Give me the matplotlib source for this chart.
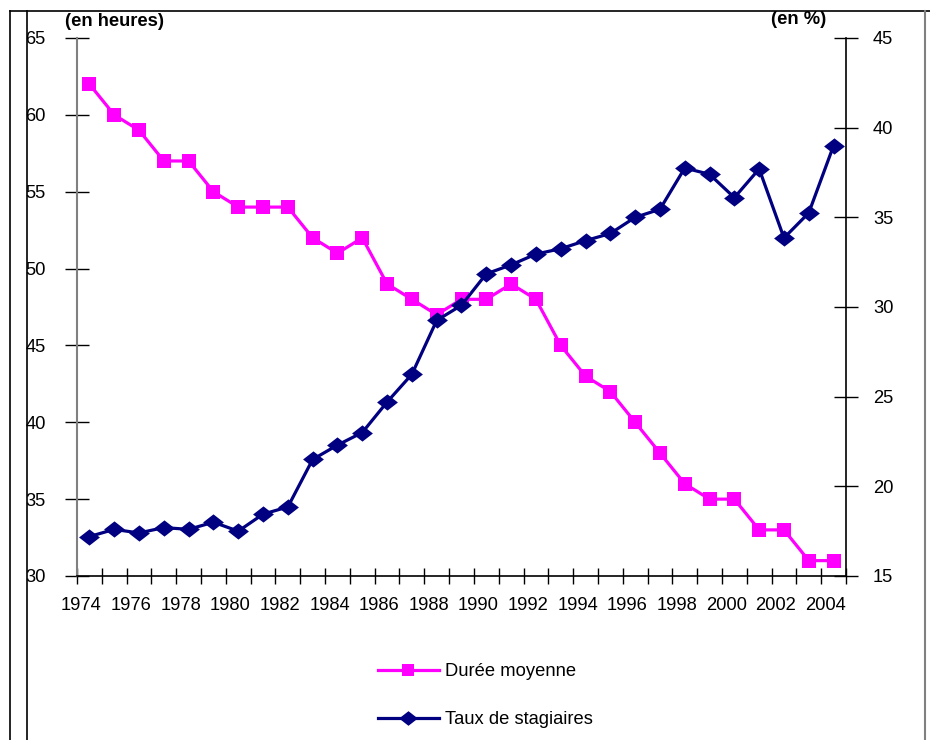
import matplotlib
matplotlib.use("Agg")
import matplotlib.pyplot as plt
import matplotlib.transforms as mtransforms
from matplotlib.lines import Line2D
import numpy as np

plt.rcParams['font.family'] = ['Liberation Sans', 'DejaVu Sans']

years = list(range(1974, 2005))
duree_moyenne = [62, 60, 59, 57, 57, 55, 54, 54, 54, 52, 51, 52, 49, 48, 47, 48,
                 48, 49, 48, 45, 43, 42, 40, 38, 36, 35, 35, 33, 33, 31, 31]
taux_stagiaires = [17.2, 17.6, 17.4, 17.7, 17.6, 18.0, 17.5, 18.45, 18.85, 21.5,
                   22.3, 23.0, 24.7, 26.25, 29.25, 30.1, 31.85, 32.35, 32.95, 33.25,
                   33.7, 34.1, 35.0, 35.45, 37.75, 37.4, 36.1, 37.7, 33.85, 35.25, 39.0]
label_duree = "Durée moyenne"
label_taux = "Taux de stagiaires"
left_ticks = [30, 35, 40, 45, 50, 55, 60, 65]
right_ticks = [15, 20, 25, 30, 35, 40, 45]

W, H = 930, 740
FS = 13.2
fig = plt.figure(figsize=(W / 100, H / 100), dpi=100)

def fx(px):
    return px / W

def fy(py):
    return 1 - py / H

ax = fig.add_axes([fx(77), fy(576), fx(846) - fx(77), fy(38) - fy(576)])
ax2 = ax.twinx()

x = np.arange(len(years))
diamond = [(-1, 0), (0, 0.78), (1, 0), (0, -0.78), (-1, 0)]

l1, = ax.plot(x, duree_moyenne, color='#FF00FF', lw=2.3, marker='s', markersize=10,
              markeredgewidth=0, label=label_duree, zorder=3)
l2, = ax2.plot(x, taux_stagiaires, color='#000080', lw=2.3, marker=diamond, markersize=15,
               markeredgewidth=0, label=label_taux, zorder=3)

ax.set_xlim(-0.5, len(years) - 0.5)
ax.set_ylim(30, 65)
ax2.set_ylim(15, 45)

# x ticks: boundaries, labels every 2 years
ax.set_xticks(np.arange(-0.5, len(years), 1.0))
ax.set_xticklabels([])
ax.set_xticks(x[::2], minor=True)
ax.set_xticklabels([str(y) for y in years[::2]], minor=True)
ax.tick_params(axis='x', which='major', direction='inout', length=12, width=1, color='black')
ax.tick_params(axis='x', which='minor', length=0, pad=15, labelsize=FS)
off = mtransforms.ScaledTranslation(-8 / 100, 0, fig.dpi_scale_trans)
for lab in ax.get_xticklabels(minor=True):
    lab.set_transform(lab.get_transform() + off)

ax.set_yticks(left_ticks)
ax.tick_params(axis='y', direction='inout', length=17, width=1, color='black', pad=14, labelsize=FS)
ax2.set_yticks(right_ticks)
ax2.tick_params(axis='y', direction='inout', length=17, width=1, color='black', pad=11, labelsize=FS)

for a in (ax, ax2):
    a.spines['top'].set_visible(False)
ax.spines['right'].set_visible(False)
ax2.spines['left'].set_visible(False)
ax2.spines['bottom'].set_visible(False)
ax.spines['left'].set_color('#808080')
ax.spines['left'].set_linewidth(1.5)
ax2.spines['right'].set_color('black')
ax2.spines['right'].set_linewidth(1.2)
ax.spines['bottom'].set_color('black')
ax.spines['bottom'].set_linewidth(1.2)

fig.text(fx(65), fy(21), "(en heures)", fontsize=FS, fontweight='bold', ha='left', va='center')
fig.text(fx(826), fy(19), "(en %)", fontsize=FS, fontweight='bold', ha='right', va='center')

# page frame lines
fig.add_artist(Line2D([fx(10), fx(10)], [fy(11), 0], color='black', lw=1.2, transform=fig.transFigure))
fig.add_artist(Line2D([fx(27), fx(27)], [fy(11), 0], color='black', lw=1.2, transform=fig.transFigure))
fig.add_artist(Line2D([fx(10), fx(930)], [fy(11), fy(11)], color='black', lw=1.2, transform=fig.transFigure))
fig.add_artist(Line2D([fx(925), fx(925)], [fy(11), 0], color='#808080', lw=1.5, transform=fig.transFigure))

fig.legend([l1, l2], [label_duree, label_taux], loc='upper left',
           bbox_to_anchor=(fx(378), fy(663)), frameon=False, fontsize=FS,
           borderpad=0, borderaxespad=0, handlelength=3.3, handletextpad=0.35,
           labelspacing=1.7, markerscale=0.9)

fig.savefig("out.png", dpi=100)
